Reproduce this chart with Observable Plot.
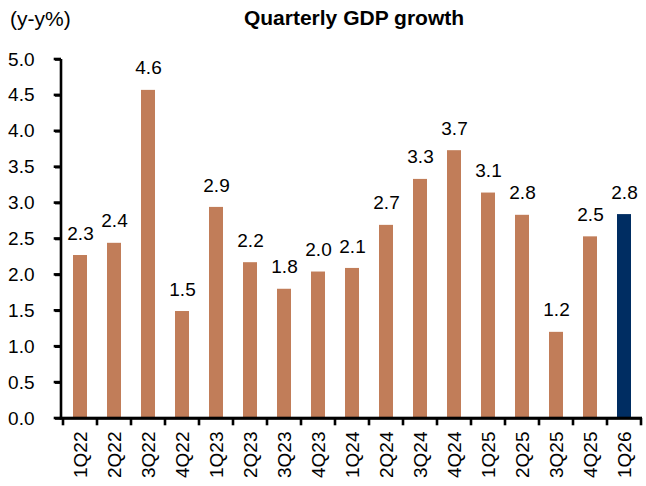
<!DOCTYPE html>
<html>
<head>
<meta charset="utf-8">
<script src="https://cdn.jsdelivr.net/npm/d3@7"></script>
<script src="https://cdn.jsdelivr.net/npm/@observablehq/plot@0.6"></script>
<style>
  html, body { margin: 0; padding: 0; background: #fff; overflow: hidden; }
  #wrap { position: relative; width: 646px; height: 486px; font-family: "Liberation Sans", Arial, sans-serif; }
  #title { position: absolute; left: 0; width: 708px; top: 6px; text-align: center; font-weight: bold; font-size: 21px; color: #000; }
  #unit { position: absolute; left: 10px; top: 7px; font-size: 21px; color: #000; }
  #chart { position: absolute; left: 0; top: 0; }
  #chart svg { font-family: "Liberation Sans", Arial, sans-serif; font-size: 19px; color: #000; }
</style>
</head>
<body>
<div id="wrap">
  <div id="chart"></div>
  <div id="title">Quarterly GDP growth</div>
  <div id="unit">(y-y%)</div>
</div>
<script>
const quarters = ["1Q22","2Q22","3Q22","4Q22","1Q23","2Q23","3Q23","4Q23","1Q24","2Q24","3Q24","4Q24","1Q25","2Q25","3Q25","4Q25","1Q26"];
const growth = [2.27, 2.44, 4.57, 1.49, 2.94, 2.17, 1.80, 2.04, 2.09, 2.69, 3.33, 3.73, 3.14, 2.83, 1.20, 2.53, 2.84];
const labels = ["2.3","2.4","4.6","1.5","2.9","2.2","1.8","2.0","2.1","2.7","3.3","3.7","3.1","2.8","1.2","2.5","2.8"];
const kind = ["actual","actual","actual","actual","actual","actual","actual","actual","actual","actual","actual","actual","actual","actual","actual","actual","forecast"];
const yTicks = [0, 0.5, 1, 1.5, 2, 2.5, 3, 3.5, 4, 4.5, 5];

const data = quarters.map((q, i) => ({q, v: growth[i], label: labels[i], kind: kind[i]}));

const W = 646, H = 486, mL = 61, mR = 4;
const step = (W - mL - mR) / quarters.length;
const LW = 2.6;
const TICK = 6;

// Axis lines and ticks drawn as filled rects from the chart's own scales
const axisRects = (index, scales, values, dims) => {
  const g = d3.create("svg:g").attr("fill", "#000");
  const x0 = dims.marginLeft, x1 = dims.width - dims.marginRight;
  const yb = scales.y(0), yt = dims.marginTop;
  const bw = scales.x.bandwidth ? scales.x.bandwidth() : 0;
  const st = scales.x.step ? scales.x.step() : step;
  // x axis line
  g.append("rect").attr("x", x0 - LW / 2).attr("y", yb - LW / 2).attr("width", x1 - x0 + LW / 2).attr("height", LW);
  // y axis line
  g.append("rect").attr("x", x0 - LW / 2).attr("y", yt).attr("width", LW).attr("height", yb - yt + LW / 2);
  // y ticks
  for (const t of yTicks) {
    g.append("rect").attr("x", x0 - LW / 2 - TICK).attr("y", scales.y(t) - LW / 2).attr("width", TICK + LW / 2).attr("height", LW);
  }
  // x ticks at band boundaries
  const bounds = quarters.map(q => scales.x(q) + bw / 2 - st / 2);
  bounds.push(scales.x(quarters[quarters.length - 1]) + bw / 2 + st / 2);
  for (const b of bounds) {
    g.append("rect").attr("x", b - LW / 2).attr("y", yb).attr("width", LW).attr("height", LW / 2 + TICK);
  }
  return g.node();
};

const chart = Plot.plot({
  width: W,
  height: H,
  marginLeft: mL,
  marginRight: mR,
  marginTop: 59,
  marginBottom: 68,
  x: {domain: quarters, paddingInner: 0.6, paddingOuter: 0.3, align: 0.5},
  y: {domain: [0, 5]},
  color: {domain: ["actual", "forecast"], range: ["#C17D59", "#002D62"]},
  marks: [
    Plot.barY(data, {x: "q", y: "v", fill: "kind"}),
    Plot.text(data, {x: "q", y: "v", text: "label", dy: -22, fontSize: 19, fill: "black"}),
    Plot.axisY({ticks: yTicks, tickFormat: d => d.toFixed(1), tickSize: TICK, tickPadding: 21, stroke: "black", strokeWidth: LW, fontSize: 19, label: null}),
    Plot.axisX({tickSize: 0, tickRotate: -90, tickPadding: 13, fontSize: 19, label: null}),
    Plot.ruleY([0], {stroke: "black", strokeWidth: LW}),
    axisRects
  ]
});
document.getElementById("chart").appendChild(chart);
</script>
</body>
</html>
